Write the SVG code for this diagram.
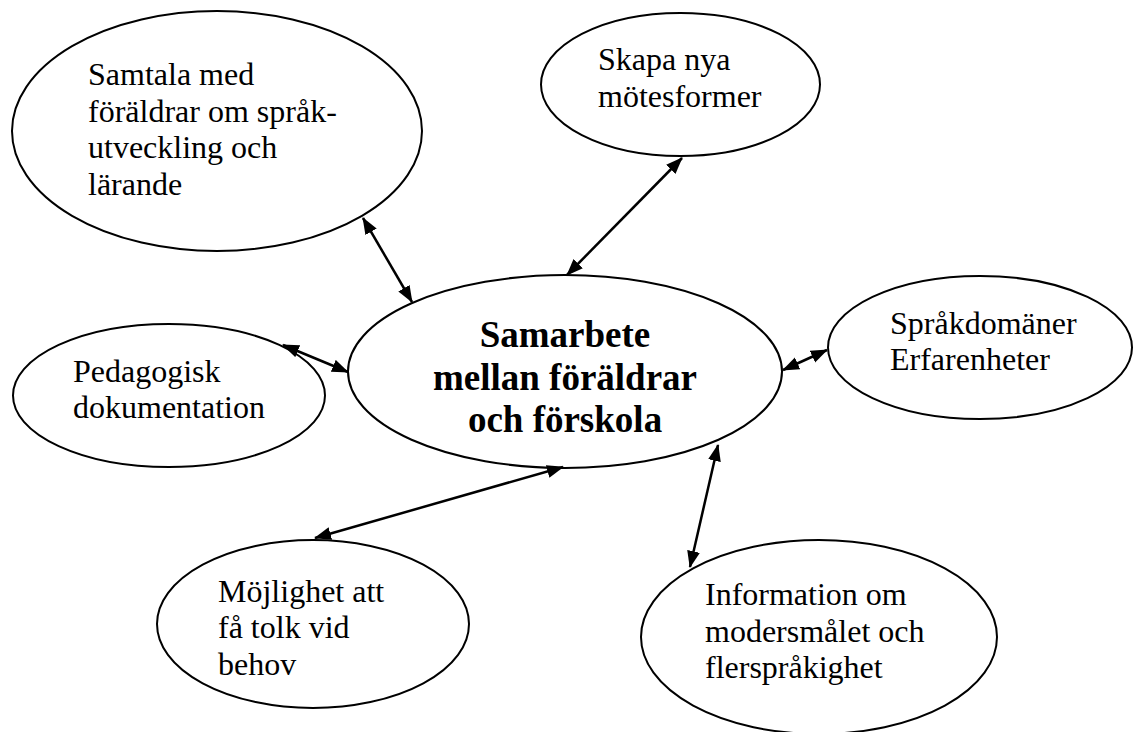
<svg xmlns="http://www.w3.org/2000/svg" width="1133" height="732" viewBox="0 0 1133 732">
<style>
.node ellipse{fill:#fff;stroke:#000;stroke-width:2}
.t{font-family:"Liberation Serif","Times New Roman",serif;font-size:32px;fill:#000}
.b{font-family:"Liberation Serif","Times New Roman",serif;font-size:37px;font-weight:bold;fill:#000;text-anchor:middle}
.conn line{stroke:#000;stroke-width:2.5;marker-start:url(#ah);marker-end:url(#ah)}
</style>
<defs>
<marker id="ah" markerUnits="userSpaceOnUse" markerWidth="18" markerHeight="14" refX="16" refY="6.5" orient="auto-start-reverse" viewBox="0 0 18 13">
<path d="M0,0 L17,6.5 L0,13 z" fill="#000"/>
</marker>
</defs>
<rect width="1133" height="732" fill="#fff"/>
<g id="n-samtala" class="node">
<ellipse cx="217" cy="131" rx="205" ry="120"/>
<text class="t" x="88" y="85">Samtala med</text>
<text class="t" x="88" y="122">föräldrar om språk-</text>
<text class="t" x="88" y="158">utveckling och</text>
<text class="t" x="88" y="195">lärande</text>
</g>
<g id="n-skapa" class="node">
<ellipse cx="680.5" cy="84.5" rx="139.5" ry="71.5"/>
<text class="t" x="598" y="70">Skapa nya</text>
<text class="t" x="598" y="107">mötesformer</text>
</g>
<g id="n-pedagogisk" class="node">
<ellipse cx="169" cy="395.5" rx="156" ry="71.5"/>
<text class="t" x="73" y="382">Pedagogisk</text>
<text class="t" x="73" y="418">dokumentation</text>
</g>
<g id="n-center" class="node">
<ellipse cx="565" cy="371.5" rx="217" ry="96.5"/>
<text class="b" x="565" y="347">Samarbete</text>
<text class="b" x="565" y="390">mellan föräldrar</text>
<text class="b" x="565" y="432">och förskola</text>
</g>
<g id="n-sprak" class="node">
<ellipse cx="980" cy="347.5" rx="152" ry="71.5"/>
<text class="t" x="890" y="334">Språkdomäner</text>
<text class="t" x="890" y="370">Erfarenheter</text>
</g>
<g id="n-mojlighet" class="node">
<ellipse cx="313" cy="624" rx="156" ry="84"/>
<text class="t" x="218" y="602">Möjlighet att</text>
<text class="t" x="218" y="638">få tolk vid</text>
<text class="t" x="218" y="675">behov</text>
</g>
<g id="n-information" class="node">
<ellipse cx="819" cy="637" rx="178" ry="97"/>
<text class="t" x="705" y="605">Information om</text>
<text class="t" x="705" y="642">modersmålet och</text>
<text class="t" x="705" y="678">flerspråkighet</text>
</g>
<g id="connectors" class="conn">
<line x1="363" y1="218" x2="412" y2="302"/>
<line x1="682" y1="158" x2="567" y2="275"/>
<line x1="283" y1="345" x2="348" y2="372"/>
<line x1="783" y1="370" x2="827" y2="350"/>
<line x1="315" y1="538" x2="563" y2="467"/>
<line x1="718" y1="445" x2="690" y2="567"/>
</g>
</svg>
